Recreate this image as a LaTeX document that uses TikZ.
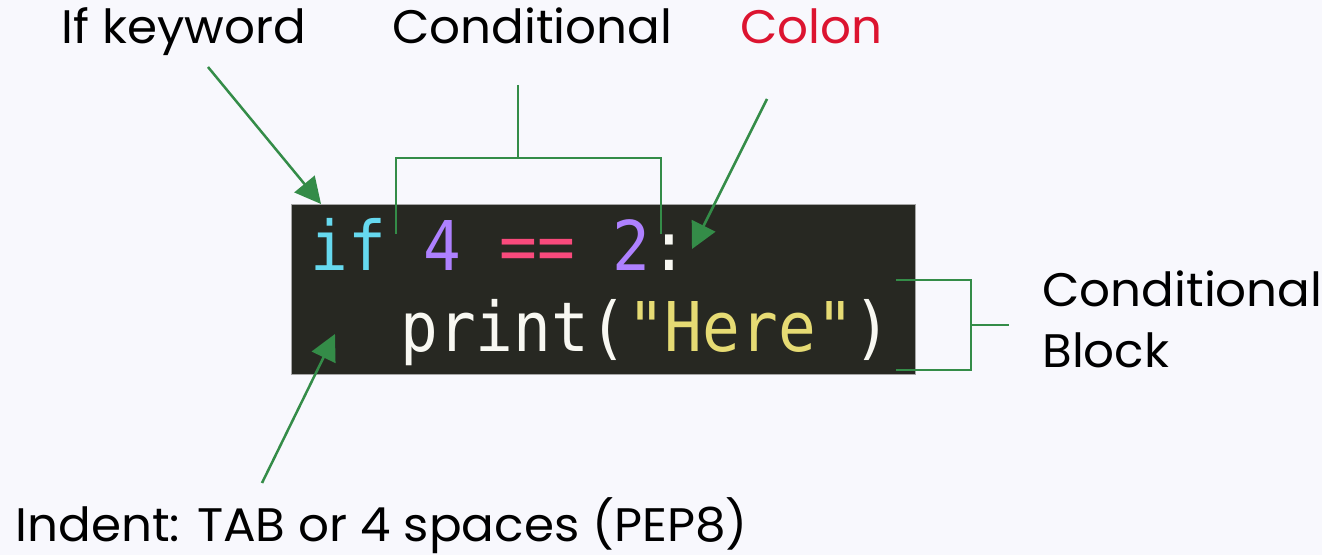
\documentclass[tikz,border=0pt]{standalone}
\usepackage{fontspec}
\setmainfont[FakeStretch=1.03]{Poppins}
\newfontfamily\codefont[FakeStretch=0.915]{DejaVu Sans Mono}
\usetikzlibrary{arrows.meta}
\definecolor{pagebg}{HTML}{F8F8FD}
\definecolor{codebg}{HTML}{272822}
\definecolor{grn}{HTML}{348C48}
\definecolor{colonred}{HTML}{DC1430}
\definecolor{ckw}{HTML}{66D9EF}
\definecolor{cnum}{HTML}{AE81FF}
\definecolor{cop}{HTML}{F94A7C}
\definecolor{cstr}{HTML}{E6DB74}
\definecolor{cwht}{HTML}{F8F8F2}
\tikzset{
  lbl/.style={anchor=base west,inner sep=0pt,font=\fontsize{23.5}{30.5}\selectfont,text=black},
  code/.style={anchor=base west,inner sep=0pt,font=\codefont\fontsize{34.3}{40}\selectfont,text=cwht},
  conn/.style={draw=grn,line width=1.25pt},
  arr/.style={conn,-{Triangle[length=13pt,width=13pt]}}
}
\begin{document}
\begin{tikzpicture}[x=0.5pt,y=-0.5pt]
\useasboundingbox (0,0) rectangle (1322,555);
\fill[pagebg] (0,0) rectangle (1322,555);
% code box
\node[draw=gray!70,line width=0.5pt,fill=codebg,minimum width=312pt,minimum height=85pt,inner sep=0pt,anchor=north west] (box) at (291,204) {};
\node[code] (line1) at (310,271) {{\color{ckw}if}\ {\color{cnum}4}\ {\color{cop}==}\ {\color{cnum}2}:};
\node[code] (line2) at (400,352) {print({\color{cstr}"Here"})};
% labels
\node[lbl] (kw) at (61,44) {If keyword};
\node[lbl] (cond) at (392,44) {Conditional};
\node[lbl,text=colonred] (colon) at (740,44) {Colon};
\node[lbl,align=left] (block) at (1042,368) {Conditional\\Block};
\node[lbl] (indent) at (15,541) {Indent: TAB or 4 spaces (PEP8)};
% coordinates
\coordinate (kwA) at (208,67);
\coordinate (kwB) at (321,204);
\coordinate (coA) at (767,99);
\coordinate (coB) at (692,249);
\coordinate (inA) at (262,483);
\coordinate (inB) at (335,334);
\coordinate (cs) at (518,85);
\coordinate (cm) at (518,158);
\coordinate (cl) at (396,234);
\coordinate (cr) at (661,234);
\coordinate (bt) at (896,280);
\coordinate (bb) at (896,370);
\coordinate (bj) at (971,325);
\coordinate (bs) at (1009,325);
% arrows
\draw[arr] (kwA) -- (kwB);
\draw[arr] (coA) -- (coB);
\draw[arr] (inA) -- (inB);
% conditional bracket
\draw[conn] (cs) -- (cm);
\draw[conn] (cl) |- (cm) -| (cr);
% block bracket
\draw[conn] (bt) -| (bj) |- (bb);
\draw[conn] (bj) -- (bs);
\end{tikzpicture}
\end{document}
